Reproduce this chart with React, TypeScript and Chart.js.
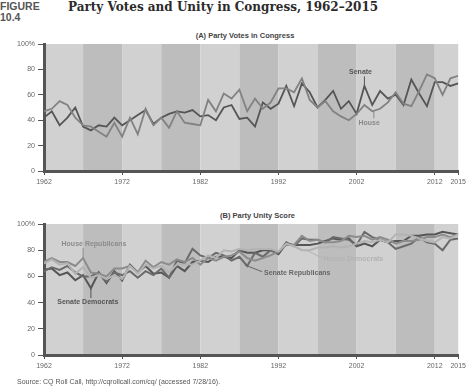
import React, { useEffect, useRef } from "react";
import { Chart, registerables } from "chart.js";
Chart.register(...registerables);

const years = [
  1962, 1963, 1964, 1965, 1966, 1967, 1968, 1969, 1970, 1971,
  1972, 1973, 1974, 1975, 1976, 1977, 1978, 1979, 1980, 1981,
  1982, 1983, 1984, 1985, 1986, 1987, 1988, 1989, 1990, 1991,
  1992, 1993, 1994, 1995, 1996, 1997, 1998, 1999, 2000, 2001,
  2002, 2003, 2004, 2005, 2006, 2007, 2008, 2009, 2010, 2011,
  2012, 2013, 2014, 2015,
];

const xTickLabels = [1962, 1972, 1982, 1992, 2002, 2012, 2015];
const yTickLabels = [0, 20, 40, 60, 80, 100];
const bandEdges = [1962, 1967, 1972, 1977, 1982, 1987, 1992, 1997, 2002, 2007, 2012, 2015];

// (A) Party votes
const senateVotes = [
  42, 47, 36, 42, 50, 35, 32, 36, 35, 42,
  36, 40, 44, 48, 37, 42, 45, 47, 46, 48,
  43, 44, 40, 50, 52, 41, 42, 35, 54, 49,
  53, 67, 51, 69, 62, 50, 56, 63, 49, 55,
  45, 67, 52, 63, 57, 60, 52, 72, 61, 51,
  70, 70, 67, 69,
];
const houseVotes = [
  47, 49, 55, 52, 42, 36, 35, 31, 27, 38,
  27, 42, 29, 49, 36, 42, 34, 47, 38, 37,
  36, 56, 47, 61, 57, 64, 47, 57, 49, 54,
  65, 65, 62, 73, 56, 50, 55, 47, 43, 40,
  45, 52, 47, 49, 54, 62, 53, 51, 63, 76,
  73, 60, 73, 75,
];

// (B) Party unity
const houseRepublicans = [
  71, 74, 71, 71, 68, 74, 63, 62, 60, 66,
  66, 68, 63, 72, 67, 71, 69, 73, 71, 74,
  69, 74, 72, 75, 76, 79, 74, 72, 74, 76,
  79, 84, 84, 91, 87, 88, 86, 86, 87, 91,
  90, 91, 88, 90, 88, 85, 87, 87, 88, 90,
  90, 92, 90, 92,
];
const houseDemocrats = [
  70, 73, 69, 70, 62, 67, 59, 61, 58, 61,
  58, 68, 62, 69, 66, 68, 63, 69, 69, 69,
  72, 76, 74, 80, 79, 81, 80, 81, 81, 81,
  79, 85, 83, 80, 80, 82, 82, 83, 82, 83,
  85, 87, 86, 88, 86, 92, 92, 91, 89, 87,
  86, 90, 89, 92,
];
const senateDemocrats = [
  65, 66, 61, 63, 57, 61, 51, 63, 55, 64,
  57, 69, 63, 68, 62, 63, 59, 68, 64, 71,
  72, 71, 75, 75, 74, 80, 78, 78, 80, 80,
  77, 85, 84, 84, 84, 85, 87, 89, 88, 89,
  83, 85, 83, 88, 86, 87, 87, 91, 91, 92,
  92, 94, 93, 92,
];
const senateRepublicans = [
  64, 67, 65, 68, 63, 60, 60, 63, 56, 63,
  61, 64, 59, 64, 61, 66, 59, 72, 70, 81,
  76, 74, 78, 76, 72, 75, 68, 78, 75, 80,
  78, 86, 83, 89, 88, 88, 86, 90, 89, 88,
  84, 94, 90, 88, 86, 81, 83, 85, 90, 86,
  85, 80, 88, 89,
];

type Note = { text: string; x: number; y: number; color: string; line: [number, number, number, number] };

const notesA: Note[] = [
  { text: "Senate", x: 2002.5, y: 78, color: "#555555", line: [2003, 67, 2003, 74.5] },
  { text: "House", x: 2003.6, y: 37.5, color: "#8a8a8a", line: [2004.2, 47, 2004.2, 41.5] },
];
const notesB: Note[] = [
  { text: "House Republicans", x: 1968.4, y: 84.5, color: "#8c8c8c", line: [1967, 74, 1967, 81.5] },
  { text: "Senate Democrats", x: 1967.6, y: 40.5, color: "#555555", line: [1968, 51, 1968, 43.5] },
  { text: "House Democrats", x: 2001.6, y: 73.3, color: "#b3b3b3", line: [1995.6, 80, 1997.6, 74] },
  { text: "Senate Republicans", x: 1994.4, y: 62.6, color: "#666666", line: [1987.7, 68.7, 1989.9, 63.6] },
];

const bandsPlugin = {
  id: "bands",
  beforeDraw(chart: any) {
    const { ctx, chartArea } = chart;
    const xs = chart.scales.x;
    ctx.save();
    for (let i = 0; i < bandEdges.length - 1; i++) {
      const x1 = xs.getPixelForValue(bandEdges[i]);
      const x2 = xs.getPixelForValue(bandEdges[i + 1]);
      ctx.fillStyle = i % 2 === 0 ? "#d1d1d1" : "#bdbdbd";
      ctx.fillRect(x1, chartArea.top, x2 - x1, chartArea.bottom - chartArea.top);
    }
    ctx.restore();
  },
};

function notesPlugin(notes: Note[]) {
  return {
    id: "notes",
    afterDatasetsDraw(chart: any) {
      const { ctx } = chart;
      const xs = chart.scales.x;
      const ys = chart.scales.y;
      ctx.save();
      for (const n of notes) {
        ctx.strokeStyle = n.color;
        ctx.lineWidth = 1;
        ctx.beginPath();
        ctx.moveTo(xs.getPixelForValue(n.line[0]), ys.getPixelForValue(n.line[1]));
        ctx.lineTo(xs.getPixelForValue(n.line[2]), ys.getPixelForValue(n.line[3]));
        ctx.stroke();
        ctx.fillStyle = n.color;
        ctx.font = "bold 7px 'Liberation Sans', sans-serif";
        ctx.textAlign = "center";
        ctx.textBaseline = "middle";
        ctx.fillText(n.text, xs.getPixelForValue(n.x), ys.getPixelForValue(n.y));
      }
      ctx.restore();
    },
  };
}

type Series = { label: string; values: number[]; color: string; width: number };

function makeChart(canvas: HTMLCanvasElement, series: Series[], notes: Note[]) {
  const tickFont = { size: 7, family: "'Liberation Sans', sans-serif" };
  return new Chart(canvas, {
    type: "line",
    data: {
      datasets: series.map((s) => ({
        label: s.label,
        data: years.map((yr, i) => ({ x: yr, y: s.values[i] })),
        borderColor: s.color,
        borderWidth: s.width,
        pointRadius: 0,
        tension: 0,
        fill: false,
      })),
    },
    options: {
      animation: false,
      responsive: false,
      maintainAspectRatio: false,
      layout: { padding: { top: 14, right: 10, left: 0, bottom: 0 } },
      plugins: { legend: { display: false }, tooltip: { enabled: false } },
      scales: {
        x: {
          type: "linear",
          min: 1962,
          max: 2015,
          afterBuildTicks: (s: any) => {
            s.ticks = xTickLabels.map((v) => ({ value: v }));
          },
          afterFit: (s: any) => {
            s.height = 24;
          },
          grid: { drawOnChartArea: false, drawTicks: true, tickLength: 4, color: "#555", lineWidth: 1 },
          border: { display: true, color: "#555", width: 3 },
          ticks: {
            callback: (v: any) => String(v),
            font: tickFont,
            color: "#666",
            padding: 3,
            maxRotation: 0,
            autoSkip: false,
          },
        },
        y: {
          min: 0,
          max: 100,
          afterBuildTicks: (s: any) => {
            s.ticks = yTickLabels.map((v) => ({ value: v }));
          },
          afterFit: (s: any) => {
            s.width = 44;
          },
          grid: { drawOnChartArea: false, drawTicks: true, tickLength: 6, color: "#555", lineWidth: 1 },
          border: { display: true, color: "#555", width: 3 },
          ticks: {
            callback: (v: any) => (v === 100 ? "100%" : String(v)),
            font: tickFont,
            color: "#666",
            padding: 3,
          },
        },
      },
    } as any,
    plugins: [bandsPlugin, notesPlugin(notes)],
  });
}

export default function App() {
  const refA = useRef<HTMLCanvasElement>(null);
  const refB = useRef<HTMLCanvasElement>(null);

  useEffect(() => {
    const a = makeChart(
      refA.current!,
      [
        { label: "House", values: houseVotes, color: "#828282", width: 1.8 },
        { label: "Senate", values: senateVotes, color: "#555555", width: 1.8 },
      ],
      notesA
    );
    const b = makeChart(
      refB.current!,
      [
        { label: "House Democrats", values: houseDemocrats, color: "#b3b3b3", width: 2 },
        { label: "House Republicans", values: houseRepublicans, color: "#8c8c8c", width: 2 },
        { label: "Senate Republicans", values: senateRepublicans, color: "#6a6a6a", width: 2 },
        { label: "Senate Democrats", values: senateDemocrats, color: "#555555", width: 2 },
      ],
      notesB
    );
    return () => {
      a.destroy();
      b.destroy();
    };
  }, []);

  const sub: React.CSSProperties = {
    position: "absolute",
    width: 469,
    textAlign: "center",
    font: "bold 7.5px 'Liberation Sans', sans-serif",
    color: "#444",
  };

  return (
    <div style={{ position: "fixed", left: 0, top: 0, width: 469, height: 391, background: "#fff", overflow: "hidden" }}>
      <div style={{ position: "absolute", left: 0, top: 1, font: "bold 10.5px 'Liberation Sans', sans-serif", lineHeight: "10.5px", color: "#555" }}>
        FIGURE
        <br />
        10.4
      </div>
      <div style={{ position: "absolute", left: 68, top: 0, font: "bold 12px 'DejaVu Serif', serif", color: "#2b2b2b", whiteSpace: "nowrap" }}>
        Party Votes and Unity in Congress, 1962–2015
      </div>
      <div style={{ ...sub, top: 31, left: 10.5 }}>(A) Party Votes in Congress</div>
      <div style={{ ...sub, top: 211, left: 23 }}>(B) Party Unity Score</div>
      <canvas ref={refA} width={469} height={165} style={{ position: "absolute", left: 0, top: 30 }} />
      <canvas ref={refB} width={469} height={169} style={{ position: "absolute", left: 0, top: 210 }} />
      <div style={{ position: "absolute", left: 17, top: 378, font: "7px 'Liberation Sans', sans-serif", color: "#555", whiteSpace: "nowrap" }}>
        Source: CQ Roll Call, http://cqrollcall.com/cq/ (accessed 7/28/16).
      </div>
    </div>
  );
}
